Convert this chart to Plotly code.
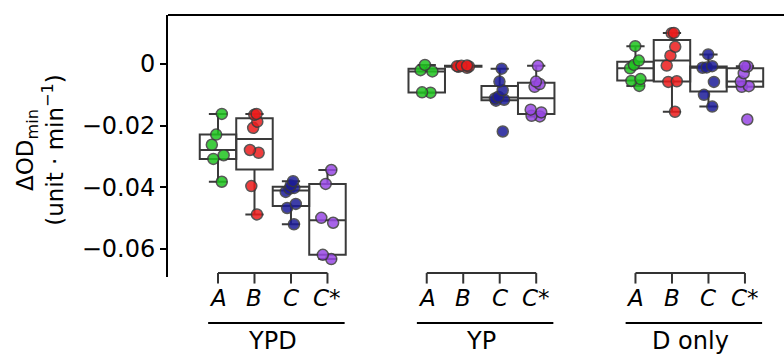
import plotly.graph_objects as go

# ---------------- data ----------------
groups = ["YPD", "YP", "D only"]
strains = ["A", "B", "C", "C*"]
strain_colors = ["#1fc41f", "#ec1c1c", "#1c1c98", "#9848e4"]

ypd_A = [-0.0382, -0.0308, -0.0296, -0.0262, -0.0229, -0.0162]
ypd_B = [-0.0488, -0.0396, -0.0288, -0.0279, -0.0207, -0.0187, -0.0165, -0.0162]
ypd_C = [-0.0520, -0.0467, -0.0454, -0.0415, -0.0405, -0.0402, -0.0394, -0.0380]
ypd_Cs = [-0.0633, -0.0619, -0.0515, -0.0499, -0.0389, -0.0344]

yp_A = [-0.0093, -0.0092, -0.0024, -0.0020, -0.0003]
yp_B = [-0.0012, -0.0009, -0.0008, -0.0007, -0.0006, -0.0005]
yp_C = [-0.0219, -0.0119, -0.0116, -0.0112, -0.0106, -0.0085, -0.0057, -0.0015]
yp_Cs = [-0.0170, -0.0168, -0.0157, -0.0148, -0.0074, -0.0065, -0.0057, -0.0006]

donly_A = [-0.0071, -0.0055, -0.0049, -0.0014, -0.0003, 0.0011, 0.0058]
donly_B = [-0.0155, -0.0058, -0.0056, -0.0005, 0.0027, 0.0056, 0.0100, 0.0101]
donly_C = [-0.0138, -0.0100, -0.0058, -0.0012, -0.0011, -0.0007, 0.0031]
donly_Cs = [-0.0180, -0.0074, -0.0072, -0.0057, -0.0030, -0.0008, -0.0007]

y_tickvals = [0, -0.02, -0.04, -0.06]
y_ticktext = ["0", "\u22120.02", "\u22120.04", "\u22120.06"]

data = {
    "YPD": [ypd_A, ypd_B, ypd_C, ypd_Cs],
    "YP": [yp_A, yp_B, yp_C, yp_Cs],
    "D only": [donly_A, donly_B, donly_C, donly_Cs],
}

# ---------------- layout params ----------------
GROUP_STEP = 5.72
FONT = "DejaVu Sans, Liberation Sans, Arial, sans-serif"
BOX_LINE = "#3a3a3a"

fig = go.Figure()

for gi, g in enumerate(groups):
    for si, s in enumerate(strains):
        vals = data[g][si]
        pos = gi * GROUP_STEP + si
        fig.add_trace(go.Box(
            x=[pos] * len(vals),
            y=vals,
            width=1.0,
            boxpoints="all",
            jitter=0.4,
            pointpos=0,
            whiskerwidth=0.5,
            fillcolor="rgba(0,0,0,0)",
            line=dict(color=BOX_LINE, width=2),
            marker=dict(color=strain_colors[si], size=11, opacity=0.85,
                        line=dict(color="#3a3a3a", width=1.5)),
            showlegend=False,
            hoverinfo="y",
        ))

shapes = []
annotations = []
for gi, g in enumerate(groups):
    base = gi * GROUP_STEP
    # bracket
    shapes.append(dict(type="line", xref="x", yref="paper",
                       x0=base, x1=base + 3, y0=0.015, y1=0.015,
                       line=dict(color="#333333", width=2)))
    for si, s in enumerate(strains):
        shapes.append(dict(type="line", xref="x", yref="paper",
                           x0=base + si, x1=base + si, y0=0.015, y1=-0.025,
                           line=dict(color="#333333", width=2)))
        annotations.append(dict(x=base + si, y=-0.08, xref="x", yref="paper",
                                text="<i>%s</i>" % s, showarrow=False,
                                xanchor="center", yanchor="middle",
                                font=dict(size=23, color="black", family=FONT)))
    # underline
    shapes.append(dict(type="line", xref="x", yref="paper",
                       x0=base - 0.27, x1=base + 3.47, y0=-0.176, y1=-0.176,
                       line=dict(color="black", width=2)))
    annotations.append(dict(x=base + 1.5, y=-0.245, xref="x", yref="paper",
                            text=g, showarrow=False,
                            xanchor="center", yanchor="middle",
                            font=dict(size=24, color="black", family=FONT)))

# top border
shapes.append(dict(type="line", xref="paper", yref="paper",
                   x0=0, x1=1, y0=1, y1=1,
                   line=dict(color="black", width=2)))

# y title
annotations.append(dict(x=-0.208, y=0.485, xref="paper", yref="paper",
                        text="\u0394OD<sub>min</sub><br>(unit \u00b7 min<sup>\u22121</sup>)",
                        textangle=-90, showarrow=False,
                        xanchor="center", yanchor="middle",
                        font=dict(size=23, color="black", family=FONT)))

fig.update_layout(
    width=784, height=354,
    margin=dict(l=168, r=0, t=15, b=77),
    plot_bgcolor="white", paper_bgcolor="white",
    shapes=shapes, annotations=annotations,
    font=dict(family=FONT, color="black"),
    xaxis=dict(range=[-1.37, 15.51], visible=False, showgrid=False, zeroline=False),
    yaxis=dict(range=[-0.0691, 0.0159], tickvals=y_tickvals, ticktext=y_ticktext,
               ticks="outside", ticklen=6, tickwidth=2, tickcolor="black",
               showline=True, linewidth=2, linecolor="black",
               showgrid=False, zeroline=False,
               tickfont=dict(size=24, color="black", family=FONT)),
)

fig.write_html("out.html",
               config={"displayModeBar": False},
               post_script="document.body.style.margin='0';document.body.style.padding='0';")
